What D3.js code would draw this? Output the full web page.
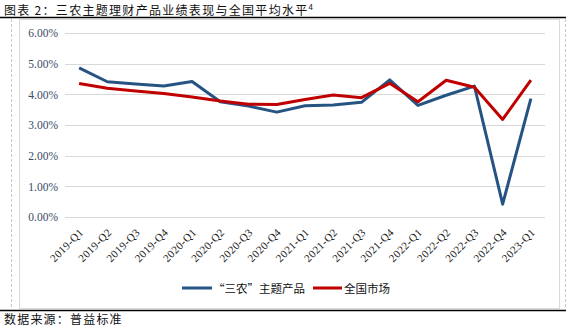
<!DOCTYPE html>
<html>
<head>
<meta charset="utf-8">
<script src="https://cdn.jsdelivr.net/npm/d3@7"></script>
<style>
  html, body { margin: 0; padding: 0; background: #fff; }
  svg { display: block; }
</style>
</head>
<body>
<svg id="chart" width="573" height="328"></svg>
<script>
// Quarterly categories
const quarters = ["2019-Q1","2019-Q2","2019-Q3","2019-Q4","2020-Q1","2020-Q2","2020-Q3","2020-Q4",
  "2021-Q1","2021-Q2","2021-Q3","2021-Q4","2022-Q1","2022-Q2","2022-Q3","2022-Q4","2023-Q1"];
// "三农" themed wealth products, average performance (%)
const sannongValues = [4.86, 4.41, 4.34, 4.27, 4.42, 3.76, 3.62, 3.42, 3.63, 3.65, 3.74, 4.47, 3.64, 3.97, 4.27, 0.42, 3.86];
// Nationwide market average (%)
const nationalValues = [4.35, 4.20, 4.11, 4.03, 3.91, 3.78, 3.68, 3.67, 3.83, 3.98, 3.89, 4.36, 3.76, 4.46, 4.23, 3.18, 4.46];
const yTicks = [0, 1, 2, 3, 4, 5, 6];
const seriesNames = ["“三农”主题产品", "全国市场"];
const seriesColors = ["#255483", "#C00000"];

const svg = d3.select("#chart");
const serif = "'Liberation Serif', 'Times New Roman', serif";
const cjk = "'Noto Sans CJK SC', sans-serif";

// Title
const title = svg.append("text").attr("x", 4).attr("y", 14.5)
  .attr("font-family", cjk).attr("font-size", 12).attr("letter-spacing", 1.3)
  .attr("fill", "#111");
title.append("tspan").text("图表 2：三农主题理财产品业绩表现与全国平均水平");
title.append("tspan").attr("font-size", 8).attr("dy", -5).attr("letter-spacing", 0).text("4");

// Frame lines
svg.append("line").attr("x1", 0).attr("x2", 566).attr("y1", 17.5).attr("y2", 17.5)
  .attr("stroke", "#000").attr("stroke-width", 1.5);
svg.append("line").attr("x1", 0).attr("x2", 566).attr("y1", 310.5).attr("y2", 310.5)
  .attr("stroke", "#000").attr("stroke-width", 1.5);
[11.5, 565.5].forEach(x => svg.append("line").attr("x1", x).attr("x2", x).attr("y1", 19).attr("y2", 310)
  .attr("stroke", "#c8c8c8").attr("stroke-dasharray", "3,2"));
svg.append("rect").attr("x", 19.5).attr("y", 19.5).attr("width", 540).attr("height", 289)
  .attr("fill", "none").attr("stroke", "#d9d9d9");

// Scales
const x = d3.scaleBand().domain(quarters).range([65, 545]);
const y = d3.scaleLinear().domain([0, 6]).range([217, 33]);
const cx = d => x(d) + x.bandwidth() / 2;

// Grid lines
svg.append("g").selectAll("line").data(yTicks).join("line")
  .attr("x1", 65).attr("x2", 545)
  .attr("y1", d => Math.round(y(d)) + 0.5).attr("y2", d => Math.round(y(d)) + 0.5)
  .attr("stroke", "#d9d9d9").attr("stroke-width", 1);

// Y axis labels
const yAxis = d3.axisLeft(y).tickValues(yTicks).tickSize(0).tickPadding(0)
  .tickFormat(d => d3.format(".2f")(d) + "%");
svg.append("g").attr("transform", "translate(58,0)").call(yAxis)
  .call(g => g.select(".domain").remove())
  .call(g => g.selectAll("text").attr("font-family", serif).attr("font-size", 11.5).attr("fill", "#3a4a66"));

// X axis labels, rotated
const xAxis = d3.axisBottom(x).tickSize(0).tickPadding(0);
svg.append("g").attr("transform", "translate(0,217)").call(xAxis)
  .call(g => g.select(".domain").remove())
  .call(g => g.selectAll("text")
    .attr("font-family", serif).attr("font-size", 11).attr("letter-spacing", 0.4).attr("fill", "#222")
    .attr("text-anchor", "end").attr("dy", 0).attr("y", 0)
    .attr("transform", "translate(5,16) rotate(-45)"));

// Lines
const line = d3.line().x((d, i) => cx(quarters[i])).y(d => y(d));
[sannongValues, nationalValues].forEach((vals, i) => {
  svg.append("path").datum(vals).attr("d", line)
    .attr("fill", "none").attr("stroke", seriesColors[i]).attr("stroke-width", 3)
    .attr("stroke-linejoin", "round");
});

// Legend
const legend = [
  { x1: 182, x2: 212, tx: 213 },
  { x1: 313, x2: 342, tx: 344 }
];
legend.forEach((l, i) => {
  svg.append("line").attr("x1", l.x1).attr("x2", l.x2).attr("y1", 288).attr("y2", 288)
    .attr("stroke", seriesColors[i]).attr("stroke-width", 3);
  svg.append("text").attr("x", l.tx).attr("y", 292.5)
    .attr("font-family", cjk).attr("font-size", 11.5).attr("fill", "#111")
    .text(seriesNames[i]);
});

// Source note
svg.append("text").attr("x", 4).attr("y", 324)
  .attr("font-family", cjk).attr("font-size", 12).attr("letter-spacing", 1.2).attr("fill", "#111")
  .text("数据来源：普益标准");
</script>
</body>
</html>
